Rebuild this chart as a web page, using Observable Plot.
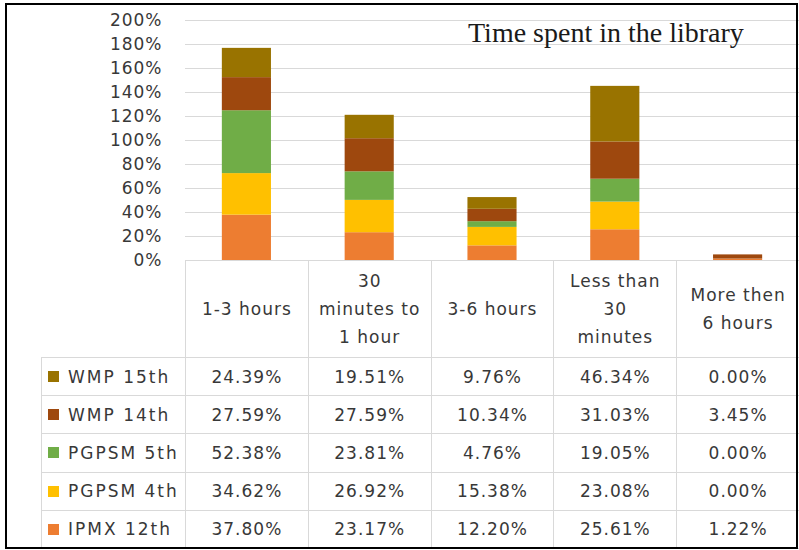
<!DOCTYPE html>
<html><head><meta charset="utf-8">
<script src="https://cdn.jsdelivr.net/npm/d3@7"></script>
<script src="https://cdn.jsdelivr.net/npm/@observablehq/plot@0.6"></script>
<style>
body{margin:0;background:#fff;width:799px;height:550px;position:relative;overflow:hidden;font-family:"DejaVu Sans",sans-serif;}
#frame{position:absolute;left:5px;top:3px;width:789px;height:542px;border:2px solid #000;pointer-events:none;z-index:5}
#chart{position:absolute;left:0;top:0}
#title{position:absolute;left:468px;top:19px;font-family:"Liberation Serif",serif;font-size:28px;line-height:28px;white-space:nowrap;color:#1a1a1a}
.cell{position:absolute;box-sizing:border-box;border:1px solid #d9d9d9;display:flex;align-items:center;justify-content:center;text-align:center;font-size:17px;letter-spacing:1px;color:#383838;line-height:28px}
.leg{justify-content:flex-start;padding-left:6px;letter-spacing:2px}
.sw{display:inline-block;width:11px;height:11px;margin-right:9px}
</style></head>
<body>
<div id="chart"></div>
<div id="title">Time spent in the library</div>
<div id="table"></div>
<div id="frame"></div>
<script>
const categories = ["1-3 hours","30 minutes to 1 hour","3-6 hours","Less than 30 minutes","More then 6 hours"];
const headerLines = [["1-3 hours"],["30","minutes to","1 hour"],["3-6 hours"],["Less than","30","minutes"],["More then","6 hours"]];
const seriesNames = ["IPMX 12th","PGPSM 4th","PGPSM 5th","WMP 14th","WMP 15th"]; // bottom to top
const ipmx12 = [37.80,23.17,12.20,25.61,1.22];
const pgpsm4 = [34.62,26.92,15.38,23.08,0.00];
const pgpsm5 = [52.38,23.81,4.76,19.05,0.00];
const wmp14  = [27.59,27.59,10.34,31.03,3.45];
const wmp15  = [24.39,19.51,9.76,46.34,0.00];
const seriesValues = [ipmx12,pgpsm4,pgpsm5,wmp14,wmp15];
const yTicks = [0,20,40,60,80,100,120,140,160,180,200];
const colors = ["#ED7D31","#FFC000","#70AD47","#9E480E","#997300"];

const data = [];
seriesNames.forEach((s,i)=>categories.forEach((c,j)=>data.push({category:c,series:s,value:seriesValues[i][j]})));

const pIn = 0.6, pOut = 0.3;
const chart = Plot.plot({
  width:799, height:272,
  marginLeft:185, marginRight:0, marginTop:20, marginBottom:12,
  style:{fontFamily:"DejaVu Sans",fontSize:"17px",letterSpacing:"1px",background:"transparent",color:"#383838"},
  x:{domain:categories, paddingInner:pIn, paddingOuter:pOut, round:false, axis:null},
  y:{domain:[0,200]},
  color:{domain:seriesNames, range:colors},
  marks:[
    Plot.gridY(yTicks,{stroke:"#d9d9d9",strokeOpacity:1}),
    Plot.axisY(yTicks,{tickSize:0,tickPadding:23,tickFormat:d=>d+"%",label:null}),
    Plot.barY(data,Plot.stackY({x:"category",y:"value",fill:"series",order:seriesNames}))
  ]
});
document.getElementById("chart").appendChild(chart);

// Data table aligned to the plot's x and y scales
const xs = chart.scale("x");
const ys = chart.scale("y");
const n = categories.length;
const step = (xs.range[1]-xs.range[0])/(n - pIn + 2*pOut);
const bw = step*(1-pIn);
const colLeft = c => xs.apply(c) + bw/2 - step/2;
const tbl = document.getElementById("table");
const headTop = ys.apply(0), headH = 97, rowH = 38.2, legLeft = 41;
function cell(x,y,w,h,html,cls){
  const d=document.createElement("div");
  d.className="cell"+(cls?" "+cls:"");
  d.style.left=x+"px";d.style.top=y+"px";d.style.width=(w+1)+"px";d.style.height=(h+1)+"px";
  d.innerHTML=html;tbl.appendChild(d);
}
categories.forEach((c,j)=>{
  cell(colLeft(c),headTop,step,headH,headerLines[j].join("<br>"));
});
const tableOrder = seriesNames.map((s,i)=>i).reverse();
tableOrder.forEach((si,r)=>{
  const y = headTop+headH+r*rowH;
  const xl = colLeft(categories[0]);
  cell(legLeft,y,xl-legLeft,rowH,`<span class="sw" style="background:${colors[si]}"></span>${seriesNames[si]}`,"leg");
  categories.forEach((c,j)=>{
    cell(colLeft(c),y,step,rowH,seriesValues[si][j].toFixed(2)+"%");
  });
});
</script>
</body></html>
